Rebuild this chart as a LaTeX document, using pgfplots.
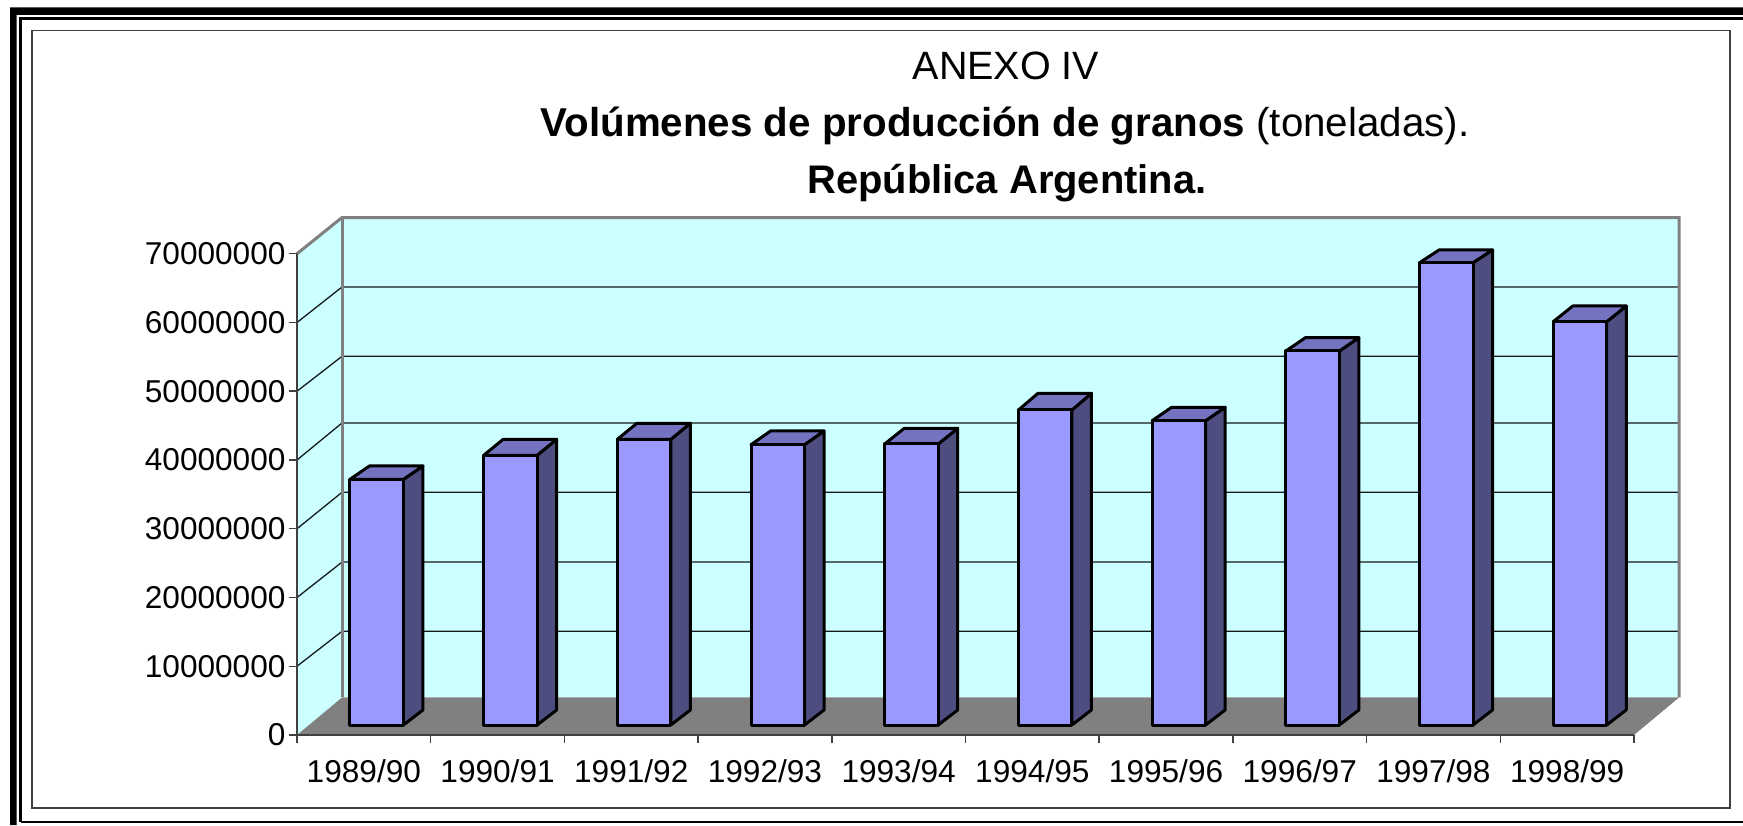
\documentclass[border=0pt]{standalone}
\usepackage{fontspec}
\setmainfont{Liberation Sans}
\usepackage{pgfplots}
\pgfplotsset{compat=1.18}
\usepackage{pgfplotstable}
\definecolor{wall}{HTML}{CCFFFF}
\definecolor{floorc}{HTML}{808080}
\definecolor{barf}{HTML}{9999FF}
\definecolor{bars}{HTML}{4D4D80}
\definecolor{bart}{HTML}{7373BF}
\definecolor{axc}{HTML}{404040}
% front faces: x centre of the bar, production in tonnes
\pgfplotstableread{
x      y
0.596  35740000
1.596  39230000
2.596  41560000
3.596  40780000
4.596  40880000
5.596  45820000
6.596  44270000
7.596  54400000
8.596  67250000
9.596  58670000
}\produccion
% side and top faces of one bar: x0 x1 x0back x1back ytop ytopback
\newcommand{\depthfaces}[6]{%
  \addplot[fill=bars,draw=black,line width=3pt,line join=round,mark=none] coordinates {(#2,1455000)(#4,3640000)(#4,#6)(#2,#5)} --cycle;
  \addplot[fill=bart,draw=black,line width=3pt,line join=round,mark=none] coordinates {(#1,#5)(#3,#6)(#4,#6)(#2,#5)} --cycle;
}
\newcommand{\gridlevel}[2]{%
  \addplot[color=black!90!wall,line width=1.3pt,mark=none] coordinates {(0,#1)(0.3366,#2)(10.3366,#2)};
}
\begin{document}
\begin{tikzpicture}[x=1pt,y=1pt]
\useasboundingbox (0,0) rectangle (1743,825);
\fill[white] (0,0) rectangle (1743,825);
% page frames
\fill[black] (10,0) -- (10,817.5) -- (1743,817.5) -- (1743,810) -- (16.5,810) -- (16.5,0) -- cycle;
\draw[black,line width=2.5pt] (20.5,3) -- (20.5,806.5) -- (1743,806.5);
\draw[black,line width=2.5pt] (20.5,3) -- (1743,3);
\draw[axc,line width=1.6pt] (32,17.3) rectangle (1730,794.5);
\begin{axis}[
  at={(297pt,90pt)},anchor=south west,
  width=1337pt,height=481.25pt,scale only axis,
  clip=false,axis on top,
  xmin=0,xmax=10,ymin=0,ymax=70000000,
  axis x line*=bottom,axis y line*=left,
  axis line style={axc,line width=1.5pt,-},
  xtick={0,1,2,3,4,5,6,7,8,9,10},
  x tick label as interval,
  xticklabels={1989/90,1990/91,1991/92,1992/93,1993/94,1994/95,1995/96,1996/97,1997/98,1998/99},
  ytick={0,10000000,20000000,30000000,40000000,50000000,60000000,70000000},
  scaled y ticks=false,
  tick align=outside,major tick length=8pt,
  tick style={axc,line width=1.5pt},
  tick label style={font=\fontsize{31.6}{36}\selectfont},
  /pgf/number format/fixed,/pgf/number format/1000 sep={},
  /pgf/number format/assume math mode=true,
  xticklabel style={yshift=-13.5pt},
]
% walls and floor
\addplot[fill=wall,draw=none,mark=none] coordinates {(0,0)(0.3366,5455000)(0.3366,75270000)(0,70000000)} --cycle;
\addplot[fill=wall,draw=none,mark=none] coordinates {(0.3366,5455000)(10.3366,5455000)(10.3366,75270000)(0.3366,75270000)} --cycle;
\gridlevel{10000000}{15080000}
\gridlevel{20000000}{25150000}
\gridlevel{30000000}{35300000}
\gridlevel{40000000}{45380000}
\gridlevel{50000000}{55080000}
\gridlevel{60000000}{65160000}
\addplot[floorc,line width=3pt,mark=none] coordinates {(0,70000000)(0.3366,75270000)(10.3366,75270000)(10.3366,5455000)};
\addplot[floorc,line width=3pt,mark=none] coordinates {(0.3366,75270000)(0.3366,5455000)};
\addplot[fill=floorc,draw=none,mark=none] coordinates {(0,0)(10,0)(10.3366,5455000)(0.3366,5455000)} --cycle;
% bars: side and top faces
\depthfaces{0.396}{0.796}{0.542}{0.942}{37190000}{39130000}
\depthfaces{1.396}{1.796}{1.542}{1.942}{40680000}{43010000}
\depthfaces{2.396}{2.796}{2.542}{2.942}{43010000}{45340000}
\depthfaces{3.396}{3.796}{3.542}{3.942}{42230000}{44220000}
\depthfaces{4.396}{4.796}{4.542}{4.942}{42330000}{44610000}
\depthfaces{5.396}{5.796}{5.542}{5.942}{47270000}{49700000}
\depthfaces{6.396}{6.796}{6.542}{6.942}{45720000}{47670000}
\depthfaces{7.396}{7.796}{7.542}{7.942}{55850000}{57790000}
\depthfaces{8.396}{8.796}{8.542}{8.942}{68700000}{70550000}
\depthfaces{9.396}{9.796}{9.542}{9.942}{60120000}{62400000}
% bars: front faces
\addplot[ybar,bar width=0.4,fill=barf,draw=black,line width=3pt,line join=round,mark=none,yshift=10pt] table[x=x,y=y] {\produccion};
\end{axis}
\node[anchor=base,font=\fontsize{39.5}{45}\selectfont] at (1006,745) {ANEXO IV};
\node[anchor=base,font=\fontsize{40.3}{45}\selectfont] at (1005,688.3) {\textbf{Volúmenes de producción de granos} (toneladas).};
\node[anchor=base,font=\fontsize{39.9}{45}\selectfont\bfseries] at (1007,631.7) {República Argentina.};
\end{tikzpicture}
\end{document}
